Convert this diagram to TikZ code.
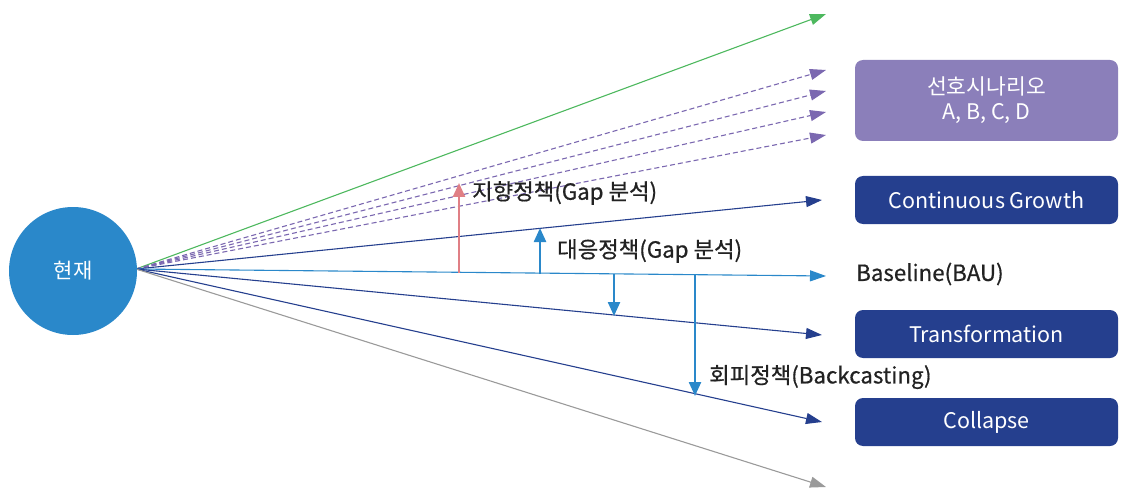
\documentclass[tikz,border=0pt]{standalone}
\usepackage{fontspec}
\setmainfont{Noto Sans CJK KR}
\newfontfamily\medfont{Noto Sans CJK KR}[FakeBold=0.6]
\usetikzlibrary{arrows.meta}
\definecolor{cgreen}{HTML}{4DB85E}
\definecolor{cpurple}{HTML}{7B68B0}
\definecolor{cnavy}{HTML}{253F8E}
\definecolor{cblue}{HTML}{2A88CA}
\definecolor{cgray}{HTML}{9A9A9A}
\definecolor{cpink}{HTML}{E07F85}
\definecolor{cbox}{HTML}{8B7FBA}
\definecolor{ctext}{HTML}{222222}
\begin{document}
\begin{tikzpicture}[x=1pt,y=-1pt,
  ray/.style={line width=1.1pt,-{Triangle[length=16pt,width=11pt]}},
  vert/.style={line width=2.4pt,-{Triangle[length=14pt,width=12pt]}},
  sbox/.style={rounded corners=8pt,minimum width=263pt,inner sep=0pt,text=white,font=\fontsize{21.5}{25}\selectfont,align=center},
  lbl/.style={text=ctext,font=\medfont\fontsize{22.3}{26}\selectfont,inner sep=0pt}]
\useasboundingbox (0,0) rectangle (1121,489);
% origin and ends
\coordinate (o) at (136,269);
\coordinate (eg) at (826,14);
\coordinate (ep1) at (826,70);
\coordinate (ep2) at (826,91);
\coordinate (ep3) at (826,112);
\coordinate (ep4) at (826,135);
\coordinate (ec) at (822,200);
\coordinate (eb) at (826,276);
\coordinate (et) at (822,335);
\coordinate (ek) at (822,422);
\coordinate (ey) at (826,487);
% rays
\draw[ray,cgreen] (o) -- (eg);
\draw[ray,cpurple,dash pattern=on 5pt off 3pt] (o) -- (ep1);
\draw[ray,cpurple,dash pattern=on 5pt off 3pt] (o) -- (ep2);
\draw[ray,cpurple,dash pattern=on 5pt off 3pt] (o) -- (ep3);
\draw[ray,cpurple,dash pattern=on 5pt off 3pt] (o) -- (ep4);
\draw[ray,cnavy] (o) -- (ec);
\draw[ray,cblue] (o) -- (eb);
\draw[ray,cnavy] (o) -- (et);
\draw[ray,cnavy] (o) -- (ek);
\draw[ray,cgray] (o) -- (ey);
% circle
\node[circle,fill=cblue,minimum size=128pt,inner sep=0pt,text=white,font=\fontsize{21}{25}\selectfont] (now) at (73,271) {현재};
% boxes
\node[sbox,fill=cbox,minimum height=81pt] (pref) at (986.5,100.5) {선호시나리오\\A, B, C, D};
\node[sbox,fill=cnavy,minimum height=48pt] (cg) at (986.5,200) {Continuous Growth};
\node[lbl,anchor=west] (bau) at (856,274) {Baseline(BAU)};
\node[sbox,fill=cnavy,minimum height=48pt] (tr) at (986.5,334) {Transformation};
\node[sbox,fill=cnavy,minimum height=48pt] (col) at (986.5,422) {Collapse};
% vertical policy arrows
\coordinate (a1s) at (459,273);
\coordinate (a1e) at (459,183);
\coordinate (a2s) at (540,274);
\coordinate (a2e) at (540,228);
\coordinate (a3s) at (614,274);
\coordinate (a3e) at (614,316);
\coordinate (a4s) at (695,274);
\coordinate (a4e) at (695,396);
\draw[vert,cpink] (a1s) -- (a1e);
\draw[vert,cblue] (a2s) -- (a2e);
\draw[vert,cblue] (a3s) -- (a3e);
\draw[vert,cblue] (a4s) -- (a4e);
\node[lbl,anchor=west] (l1) at (472,193) {지향정책(Gap 분석)};
\node[lbl,anchor=west] (l2) at (557,251) {대응정책(Gap 분석)};
\node[lbl,anchor=west] (l3) at (709,377) {회피정책(Backcasting)};
\end{tikzpicture}
\end{document}
